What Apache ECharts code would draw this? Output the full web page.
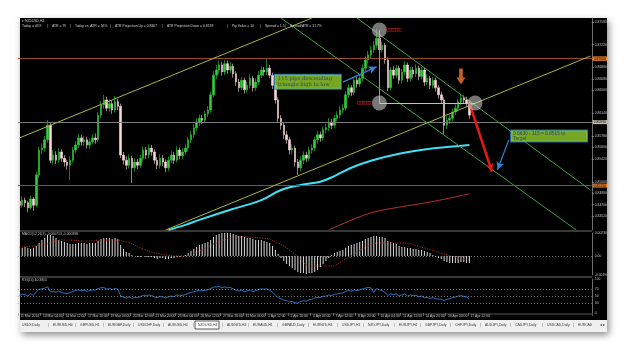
<!DOCTYPE html>
<html>
<head>
<meta charset="utf-8">
<script src="https://cdn.jsdelivr.net/npm/echarts@6/dist/echarts.min.js"></script>
<style>
html,body{margin:0;padding:0;background:#ffffff;overflow:hidden;}
#chart{width:625px;height:350px;}
</style>
</head>
<body>
<div id="chart"></div>
<script>
// ================= DATA =================
const timeLabels = ['11 Mar 2014','13 Mar 04:00','14 Mar 12:00','17 Mar 20:00','19 Mar 04:00','20 Mar 12:00','21 Mar 20:00','25 Mar 04:00','26 Mar 12:00','27 Mar 20:00','31 Mar 04:00','1 Apr 12:00','2 Apr 20:00','4 Apr 04:00','7 Apr 12:00','8 Apr 20:00','10 Apr 04:00','11 Apr 12:00','14 Apr 20:00','16 Apr 04:00','17 Apr 12:00'];

const open = [
0.8475,0.8469,0.8477,0.8473,0.8465,0.8479,0.8469,0.8517,0.8556,0.8559,
0.8572,0.8595,0.8540,0.8548,0.8540,0.8553,0.8543,0.8537,0.8532,0.8540,
0.8556,0.8564,0.8575,0.8569,0.8572,0.8564,0.8569,0.8575,0.8572,0.8611,
0.8627,0.8635,0.8622,0.8629,0.8619,0.8632,0.8625,0.8548,0.8540,0.8532,
0.8543,0.8528,0.8537,0.8532,0.8543,0.8556,0.8548,0.8559,0.8553,0.8540,
0.8532,0.8543,0.8537,0.8528,0.8540,0.8548,0.8540,0.8556,0.8547,0.8553,
0.8559,0.8572,0.8580,0.8591,0.8600,0.8606,0.8603,0.8613,0.8619,0.8643,
0.8674,0.8682,0.8690,0.8679,0.8692,0.8682,0.8688,0.8676,0.8663,0.8654,
0.8666,0.8651,0.8658,0.8669,0.8654,0.8663,0.8674,0.8682,0.8679,0.8685,
0.8674,0.8658,0.8635,0.8606,0.8595,0.8580,0.8572,0.8556,0.8559,0.8537,
0.8528,0.8540,0.8548,0.8543,0.8556,0.8559,0.8572,0.8580,0.8575,0.8588,
0.8591,0.8600,0.8595,0.8606,0.8611,0.8619,0.8622,0.8643,0.8654,0.8647,
0.8666,0.8660,0.8669,0.8685,0.8698,0.8706,0.8714,0.8721,0.8732,0.8714,
0.8721,0.8698,0.8654,0.8682,0.8674,0.8685,0.8666,0.8679,0.8690,0.8669,
0.8682,0.8676,0.8685,0.8672,0.8682,0.8663,0.8669,0.8658,0.8666,0.8654,
0.8643,0.8635,0.8595,0.8603,0.8606,0.8616,0.8622,0.8632,0.8638,0.8635,
0.8630];

const close = [
0.8469,0.8477,0.8473,0.8465,0.8479,0.8469,0.8517,0.8556,0.8559,0.8572,
0.8595,0.8540,0.8548,0.8540,0.8553,0.8543,0.8537,0.8532,0.8540,0.8556,
0.8564,0.8575,0.8569,0.8572,0.8564,0.8569,0.8575,0.8572,0.8611,0.8627,
0.8635,0.8622,0.8629,0.8619,0.8632,0.8625,0.8548,0.8540,0.8532,0.8543,
0.8528,0.8537,0.8532,0.8543,0.8556,0.8548,0.8559,0.8553,0.8540,0.8532,
0.8543,0.8537,0.8528,0.8540,0.8548,0.8540,0.8556,0.8547,0.8553,0.8559,
0.8572,0.8580,0.8591,0.8600,0.8606,0.8603,0.8613,0.8619,0.8643,0.8674,
0.8682,0.8690,0.8679,0.8692,0.8682,0.8688,0.8676,0.8663,0.8654,0.8666,
0.8651,0.8658,0.8669,0.8654,0.8663,0.8674,0.8682,0.8679,0.8685,0.8674,
0.8658,0.8635,0.8606,0.8595,0.8580,0.8572,0.8556,0.8559,0.8537,0.8528,
0.8540,0.8548,0.8543,0.8556,0.8559,0.8572,0.8580,0.8575,0.8588,0.8591,
0.8600,0.8595,0.8606,0.8611,0.8619,0.8622,0.8643,0.8654,0.8647,0.8666,
0.8660,0.8669,0.8685,0.8698,0.8706,0.8714,0.8721,0.8732,0.8714,0.8721,
0.8698,0.8654,0.8682,0.8674,0.8685,0.8666,0.8679,0.8690,0.8669,0.8682,
0.8676,0.8685,0.8672,0.8682,0.8663,0.8669,0.8658,0.8666,0.8654,0.8643,
0.8635,0.8595,0.8603,0.8606,0.8616,0.8622,0.8632,0.8638,0.8635,0.8630,
0.8611];

const high = [
0.8480,0.8483,0.8481,0.8476,0.8484,0.8482,0.8522,0.8561,0.8566,0.8578,
0.8603,0.8598,0.8556,0.8554,0.8559,0.8557,0.8548,0.8541,0.8546,0.8561,
0.8570,0.8581,0.8580,0.8578,0.8577,0.8574,0.8581,0.8582,0.8616,0.8633,
0.8643,0.8640,0.8636,0.8634,0.8641,0.8637,0.8629,0.8553,0.8546,0.8549,
0.8547,0.8543,0.8542,0.8549,0.8562,0.8561,0.8565,0.8564,0.8557,0.8545,
0.8549,0.8548,0.8541,0.8546,0.8554,0.8553,0.8562,0.8560,0.8559,0.8565,
0.8577,0.8586,0.8597,0.8606,0.8612,0.8611,0.8618,0.8625,0.8648,0.8680,
0.8690,0.8697,0.8695,0.8698,0.8697,0.8694,0.8692,0.8680,0.8668,0.8671,
0.8670,0.8664,0.8675,0.8673,0.8669,0.8680,0.8688,0.8687,0.8701,0.8690,
0.8678,0.8662,0.8639,0.8611,0.8600,0.8586,0.8577,0.8565,0.8563,0.8542,
0.8546,0.8554,0.8553,0.8561,0.8565,0.8577,0.8586,0.8585,0.8593,0.8597,
0.8606,0.8605,0.8611,0.8617,0.8625,0.8628,0.8649,0.8660,0.8658,0.8672,
0.8671,0.8675,0.8691,0.8704,0.8712,0.8720,0.8728,0.8747,0.8737,0.8727,
0.8725,0.8702,0.8687,0.8688,0.8690,0.8689,0.8684,0.8696,0.8694,0.8687,
0.8687,0.8691,0.8689,0.8687,0.8686,0.8675,0.8673,0.8671,0.8670,0.8658,
0.8648,0.8639,0.8609,0.8612,0.8621,0.8628,0.8637,0.8644,0.8642,0.8640,
0.8634];

const low = [
0.8463,0.8465,0.8466,0.8458,0.8462,0.8460,0.8466,0.8512,0.8549,0.8553,
0.8568,0.8535,0.8533,0.8534,0.8536,0.8537,0.8530,0.8525,0.8509,0.8536,
0.8551,0.8559,0.8563,0.8562,0.8558,0.8558,0.8565,0.8566,0.8569,0.8606,
0.8621,0.8617,0.8616,0.8613,0.8615,0.8619,0.8543,0.8533,0.8525,0.8527,
0.8504,0.8522,0.8526,0.8528,0.8538,0.8542,0.8543,0.8547,0.8534,0.8526,
0.8527,0.8531,0.8521,0.8523,0.8535,0.8534,0.8536,0.8541,0.8542,0.8548,
0.8554,0.8567,0.8575,0.8586,0.8594,0.8597,0.8598,0.8608,0.8615,0.8639,
0.8668,0.8676,0.8673,0.8674,0.8676,0.8677,0.8670,0.8657,0.8648,0.8650,
0.8645,0.8646,0.8653,0.8648,0.8649,0.8658,0.8669,0.8673,0.8674,0.8669,
0.8652,0.8629,0.8600,0.8588,0.8573,0.8566,0.8549,0.8549,0.8530,0.8517,
0.8522,0.8534,0.8537,0.8538,0.8550,0.8554,0.8566,0.8569,0.8570,0.8582,
0.8586,0.8589,0.8590,0.8601,0.8606,0.8614,0.8618,0.8638,0.8641,0.8643,
0.8654,0.8655,0.8664,0.8680,0.8692,0.8700,0.8709,0.8716,0.8708,0.8709,
0.8692,0.8649,0.8650,0.8668,0.8669,0.8660,0.8661,0.8674,0.8663,0.8664,
0.8670,0.8671,0.8666,0.8667,0.8657,0.8658,0.8652,0.8653,0.8648,0.8637,
0.8629,0.8580,0.8589,0.8597,0.8601,0.8611,0.8617,0.8627,0.8629,0.8624,
0.8605];

// moving averages: [candle index, price]
const maCyan = [[53,0.8430],[59,0.8438],[64,0.8446],[75,0.8462],[86,0.8477],[93,0.8493],[100,0.8501],[107,0.8506],[112,0.8515],[118,0.8528],[125,0.8539],[135,0.8550],[146,0.8558],[153,0.8561],[160,0.8564]];
const maRed = [[110,0.8430],[114,0.8438],[125,0.8457],[135,0.8466],[146,0.8474],[160,0.8487]];

// MACD histogram (one per candle) and signal line
const macdHist = [
0.0009,0.0008,0.0009,0.0008,0.0007,0.0008,
0.0010,0.0013,0.0016,0.0018,0.0021,0.0021,0.0020,
0.0018,0.0016,0.0015,0.0014,0.0013,0.0012,0.0012,0.0012,0.0013,0.0013,0.0013,0.0012,
0.0013,0.0013,0.0013,0.0015,
0.0017,0.0018,0.0018,0.0018,0.0017,0.0018,0.0017,
0.0011,0.0007,0.0004,0.0003,
0.0001,0.0000,-0.0001,-0.0001,0.0000,-0.0001,-0.0001,-0.0001,-0.0002,-0.0003,-0.0002,-0.0002,-0.0003,-0.0003,-0.0002,-0.0002,-0.0001,-0.0001,
0.0000,0.0001,0.0003,0.0005,0.0007,0.0009,0.0011,
0.0012,0.0013,0.0014,0.0016,0.0019,0.0021,
0.0022,0.0023,0.0023,0.0023,0.0023,0.0022,0.0021,0.0020,
0.0020,0.0019,0.0018,0.0018,0.0017,0.0016,0.0016,0.0016,0.0015,0.0014,0.0013,
0.0010,0.0006,0.0002,
-0.0002,-0.0005,-0.0008,-0.0010,-0.0012,-0.0014,-0.0016,-0.0017,-0.0017,-0.0018,-0.0017,-0.0017,-0.0016,-0.0014,
-0.0011,-0.0008,-0.0005,-0.0002,
0.0001,0.0003,0.0004,0.0005,0.0006,0.0008,0.0010,
0.0011,0.0012,0.0013,0.0014,0.0015,0.0017,
0.0018,0.0019,0.0020,0.0020,0.0019,0.0019,0.0018,
0.0015,0.0014,0.0013,0.0012,0.0010,
0.0009,0.0009,0.0008,0.0008,0.0007,0.0007,0.0006,0.0006,0.0005,0.0004,0.0003,
0.0001,-0.0001,-0.0002,-0.0003,-0.0005,
-0.0006,-0.0007,-0.0007,-0.0007,-0.0007,-0.0006,-0.0006,-0.0007,-0.0007];
const macdSignal = [[0,0.0009],[8,0.0011],[16,0.0016],[24,0.0015],[32,0.0016],[38,0.0014],[44,0.0007],[50,0.0002],[58,0.0000],[64,0.0005],[70,0.0013],[78,0.0019],[86,0.0018],[92,0.0013],[98,0.0002],[104,-0.0010],[110,-0.0010],[116,-0.0003],[122,0.0007],[128,0.0013],[136,0.0013],[144,0.0008],[150,0.0003],[156,-0.0002],[160,-0.0004]];

// RSI(14), one per candle
const rsi = [
52,55,54,50,56,52,
62,70,71,73,77,62,
64,61,64,60,58,57,60,64,66,68,66,67,64,
66,68,67,72,74,75,70,72,69,72,70,
50,47,44,48,43,
46,45,48,52,50,53,51,47,45,49,47,44,48,50,48,53,50,52,54,58,
60,63,65,66,65,67,68,72,
76,77,78,74,77,74,75,71,67,
64,68,63,65,68,63,66,69,71,70,71,
67,61,53,45,42,38,36,33,
34,30,29,34,36,35,39,40,44,46,
45,49,50,53,51,55,56,58,59,
64,66,64,68,66,68,71,73,
75,74,60,72,68,66,60,52,
56,54,56,50,53,56,50,53,51,
52,48,50,45,46,43,45,42,41,40,
36,40,42,45,47,50,51,49,47,40];

// price levels (horizontal lines) and annotations
const levels = [0.8745, 0.8700, 0.8630, 0.8515, 0.8439];
const greyLevel = 0.8599;
const priceTicks = [0.8758,0.8722,0.8686,0.8668,0.8650,0.8614,0.8578,0.8560,0.8542,0.8506,0.8488,0.8470,0.8452];
const ascUpper = [[0,0.8575],[104,0.8764]];
const ascLower = [[52,0.8430],[203,0.8704]];
const descUpper = [[120,0.8764],[203,0.8493]];
const descLower = [[93,0.8764],[198,0.8430]];
const redArrow = [[160,0.8630],[168,0.8522]];
const blueArrow1 = [[115,0.8663],[127,0.8687]];
const blueArrow2 = [[174,0.8572],[170,0.8525]];
const triVertical = [[128,0.8745],[128,0.8630]];
const triBase = [[128,0.8630],[162,0.8630]];
const circles = [[128,0.8745],[128,0.8630],[162,0.8630]];
const circleTexts = ['0.87450','0.86300',''];
const orangeArrowAt = [157,0.8672];
const note1At = [91,0.8674];
const note2At = [175,0.8586];
const note1Text = '115 pips descending\ntriangle high to low';
const note2Text = '0.8630 - 115 = 0.8515 tp\nTarget';

const tabs = ['USDX,Daily','EURUSD,H4','GBPUSD,H1','EURGBP,Daily','USDCHF,Daily','AUDUSD,H4','NZDUSD,H4','AUDNZD,H4','EURAUD,H1','GBPAUD,Daily','EURNZD,H4','USDJPY,H1','NZDJPY,Daily','EURJPY,H4','GBPJPY,Daily','CHFJPY,Daily','AUDJPY,Daily','CADJPY,Daily','USDCAD,Daily','EURCAD'];
const activeTab = 'NZDUSD,H4';
const headerItems = ['Today = 43.9','ATR = 79','Today vs. ATR = 56%','ATR Projection Up = 0.8807','ATR Projection Down = 0.8578','Pip Value = 10','Spread = 1.5','Spread/ATR = 31.7%'];

// ================= LAYOUT =================
const SLOTS = 204;
const cats = Array.from({length: SLOTS}, (_, i) => String(i));
const tabX = [22,53,80,108,138,168,198,227,253,282,313,342,368,399,425,455,485,515,547,578];
const headerX = [22,52,75,115,167,232,265,290];
const circleLabelPos = ['right','left','right'];
const FONT = 'Liberation Sans';
const FS = 3.4;

const candles = open.map((o, i) => [o, close[i], low[i], high[i]]);
const seg = (p, color, width, type, arrow) => [
  {coord: p[0], symbol: 'none', lineStyle: {color: color, width: width, type: type || 'solid'}},
  {coord: p[1], symbol: arrow ? 'arrow' : 'none', symbolSize: arrow ? [6, 8] : 0}
];
const levelLine = (v, lineColor, bg) => ({
  yAxis: v, symbol: 'none',
  lineStyle: {color: lineColor, width: 1, type: 'solid'},
  label: {show: true, position: 'end', formatter: () => v.toFixed(5), color: '#000', backgroundColor: bg, fontSize: FS, fontFamily: FONT, padding: [1, 1, 0, 1], distance: 1}
});

const gridBase = {left: 18, width: 573.75, containLabel: false, outerBoundsMode: 'none', show: false};
const xBase = {type: 'category', data: cats, boundaryGap: true, axisLine: {show: false}, axisTick: {show: false}, axisLabel: {show: false}, splitLine: {show: false}};
const labelEvery = (idx) => idx % 8 === 0 && idx / 8 < timeLabels.length;

const tabEls = [];
tabs.forEach((t, k) => {
  if (t === activeTab) {
    tabEls.push({type: 'rect', z: 50, shape: {x: tabX[k] - 3, y: 321, width: 24, height: 8}, style: {fill: '#ffffff', stroke: '#333', lineWidth: 0.8}});
  }
  tabEls.push({type: 'text', z: 51, style: {text: t, x: tabX[k], y: 323.3, fill: '#333', fontSize: FS, fontFamily: FONT}});
  if (k > 0) tabEls.push({type: 'text', z: 51, style: {text: '|', x: tabX[k] - 5, y: 322.8, fill: '#666', fontSize: 4, fontFamily: FONT}});
});
const headerEls = [];
headerItems.forEach((t, k) => {
  headerEls.push({type: 'text', z: 60, style: {text: t, x: headerX[k], y: 24.6, fill: '#d0d0d0', fontSize: FS, fontFamily: FONT}});
  if (k > 0) headerEls.push({type: 'text', z: 60, style: {text: '|', x: headerX[k] - 5, y: 24.3, fill: '#b0b0b0', fontSize: 4, fontFamily: FONT}});
});

const option = {
  animation: false,
  backgroundColor: '#ffffff',
  grid: [
    Object.assign({}, gridBase, {top: 18, height: 212}),
    Object.assign({}, gridBase, {top: 233, height: 42}),
    Object.assign({}, gridBase, {top: 279, height: 34})
  ],
  xAxis: [
    Object.assign({}, xBase, {gridIndex: 0}),
    Object.assign({}, xBase, {gridIndex: 1}),
    Object.assign({}, xBase, {gridIndex: 2,
      axisTick: {show: true, interval: labelEvery, length: 3, lineStyle: {color: '#888', width: 0.6}},
      axisLabel: {show: true, interval: labelEvery, formatter: (v, idx) => timeLabels[idx / 8] || '', fontSize: FS, fontFamily: FONT, color: '#c8c8c8', margin: 2, align: 'left', padding: [0, 0, 0, 1]}
    })
  ],
  yAxis: [
    {type: 'value', gridIndex: 0, position: 'right', min: 0.8430, max: 0.8764,
      axisLine: {show: true, lineStyle: {color: '#8a8a8a', width: 0.8}},
      axisTick: {show: true, length: 2, customValues: priceTicks, lineStyle: {color: '#8a8a8a'}},
      axisLabel: {show: true, customValues: priceTicks, formatter: v => v.toFixed(5), fontSize: FS, fontFamily: FONT, color: '#c0c0c0', margin: 3},
      splitLine: {show: false}},
    {type: 'value', gridIndex: 1, position: 'right', min: -0.0019, max: 0.0023,
      axisLine: {show: true, lineStyle: {color: '#8a8a8a', width: 0.8}},
      axisTick: {show: false},
      axisLabel: {show: true, customValues: [0.0023, 0, -0.0019], formatter: v => v === 0 ? '0.00' : v.toFixed(6), fontSize: FS, fontFamily: FONT, color: '#c0c0c0', margin: 3},
      splitLine: {show: false}},
    {type: 'value', gridIndex: 2, position: 'right', min: 0, max: 100,
      axisLine: {show: true, lineStyle: {color: '#8a8a8a', width: 0.8}},
      axisTick: {show: false},
      axisLabel: {show: true, customValues: [0, 30, 50, 70, 100], fontSize: FS, fontFamily: FONT, color: '#c0c0c0', margin: 3},
      splitLine: {show: false}}
  ],
  graphic: {elements: [
    {type: 'rect', z: -20, shape: {x: 20, y: 18, width: 587, height: 314}, style: {fill: '#000', shadowBlur: 7, shadowOffsetX: 2, shadowOffsetY: 3, shadowColor: 'rgba(0,0,0,0.45)'}},
    {type: 'rect', z: 40, shape: {x: 20, y: 320, width: 587, height: 12}, style: {fill: '#f0f0f0'}},
    {type: 'line', z: 40, shape: {x1: 20, y1: 231, x2: 592, y2: 231}, style: {stroke: '#8a8a8a', lineWidth: 0.8}},
    {type: 'line', z: 40, shape: {x1: 20, y1: 277, x2: 592, y2: 277}, style: {stroke: '#8a8a8a', lineWidth: 0.8}},
    {type: 'line', z: 40, shape: {x1: 20, y1: 314, x2: 592, y2: 314}, style: {stroke: '#8a8a8a', lineWidth: 0.6}},
    {type: 'text', z: 60, style: {text: '\u25BE NZDUSD,H4', x: 22, y: 19.3, fill: '#d0d0d0', fontSize: FS, fontFamily: FONT}},
    {type: 'text', z: 60, style: {text: 'MACD(12,26,9) -0.000713 -0.000398', x: 22, y: 232.6, fill: '#c0c0c0', fontSize: FS, fontFamily: FONT}},
    {type: 'text', z: 60, style: {text: 'RSI(14) 40.3805', x: 22, y: 278.6, fill: '#c0c0c0', fontSize: FS, fontFamily: FONT}},
    {type: 'text', z: 60, style: {text: '\u25C2 \u25B8', x: 600, y: 323, fill: '#333', fontSize: 4, fontFamily: FONT}}
  ].concat(headerEls, tabEls)},
  series: [
    {type: 'candlestick', xAxisIndex: 0, yAxisIndex: 0, data: candles, barWidth: 2,
      itemStyle: {color: '#2fcf3a', color0: '#f7d7d7', borderColor: '#2fcf3a', borderColor0: '#f7d7d7', borderWidth: 0.6},
      markLine: {silent: true, symbol: ['none', 'none'], animation: false, label: {show: false},
        data: levels.map(v => levelLine(v, '#9a4a22', '#e57a24'))
          .concat([levelLine(greyLevel, '#7a7a7a', '#bdbdbd')])
          .concat([
            seg(ascUpper, '#a7b840', 1),
            seg(ascLower, '#a7b840', 1),
            seg(descUpper, '#3f9f3f', 1),
            seg(descLower, '#3f9f3f', 1),
            seg(triVertical, '#5fbf5f', 1),
            seg(triBase, '#9fd89f', 1),
            seg(blueArrow1, '#2f86d8', 1.2, 'solid', true),
            seg(blueArrow2, '#2f86d8', 1.2, 'solid', true),
            seg(redArrow, '#e81818', 2.5, 'solid', true)
          ])
      }
    },
    {type: 'line', xAxisIndex: 0, yAxisIndex: 0, data: maCyan, smooth: 0.4, symbol: 'none', lineStyle: {color: '#3fe0f5', width: 2}, z: 3},
    {type: 'line', xAxisIndex: 0, yAxisIndex: 0, data: maRed, smooth: 0.4, symbol: 'none', lineStyle: {color: '#b8322e', width: 1}, z: 3},
    {type: 'scatter', xAxisIndex: 0, yAxisIndex: 0, symbolSize: 15, z: 5,
      data: circles.map((c, k) => ({value: c, label: {show: circleTexts[k] !== '', formatter: circleTexts[k], position: circleLabelPos[k]}})),
      itemStyle: {color: 'rgba(205,205,205,0.72)'},
      label: {distance: 0, fontSize: FS, fontFamily: FONT, color: '#ff3030', borderColor: '#d02020', borderWidth: 0.6, padding: [0, 1]}
    },
    {type: 'scatter', xAxisIndex: 0, yAxisIndex: 0, data: [orangeArrowAt], z: 6,
      symbol: 'path://M3,0 L7,0 L7,9 L10,9 L5,16 L0,9 L3,9 Z', symbolSize: [9, 16],
      itemStyle: {color: '#f5792a'}},
    {type: 'scatter', xAxisIndex: 0, yAxisIndex: 0, data: [note1At], symbolSize: 1, z: 7,
      itemStyle: {color: 'rgba(0,0,0,0)'},
      label: {show: true, position: [0, 0], align: 'left', verticalAlign: 'top', formatter: note1Text, fontSize: 5.2, lineHeight: 6, fontFamily: 'DejaVu Serif', color: '#1a2f7a', backgroundColor: '#93d12b', borderColor: '#2f86d8', borderWidth: 1, padding: [1, 3, 1, 3], width: 60}
    },
    {type: 'scatter', xAxisIndex: 0, yAxisIndex: 0, data: [note2At], symbolSize: 1, z: 7,
      itemStyle: {color: 'rgba(0,0,0,0)'},
      label: {show: true, position: [0, 0], align: 'left', verticalAlign: 'top', formatter: note2Text, fontSize: 4.8, lineHeight: 5, fontFamily: FONT, color: '#1a2f7a', backgroundColor: '#93d12b', borderColor: '#2f86d8', borderWidth: 1, padding: [1, 2, 0, 2], width: 72}
    },
    {type: 'bar', xAxisIndex: 1, yAxisIndex: 1, data: macdHist, barWidth: 1, itemStyle: {color: '#d8d8d8'},
      markLine: {silent: true, symbol: ['none', 'none'], label: {show: false}, lineStyle: {color: '#9a9a9a', type: [1, 2], width: 0.8}, data: [{yAxis: 0}]}
    },
    {type: 'line', xAxisIndex: 1, yAxisIndex: 1, data: macdSignal, smooth: 0.5, symbol: 'none', lineStyle: {color: '#c8302c', width: 1, type: [1, 1.5]}, z: 4},
    {type: 'line', xAxisIndex: 2, yAxisIndex: 2, data: rsi, symbol: 'none', lineStyle: {color: '#2f7fd8', width: 0.9},
      markLine: {silent: true, symbol: ['none', 'none'], label: {show: false}, lineStyle: {color: '#9a9a9a', type: [1, 2], width: 0.8}, data: [{yAxis: 70}, {yAxis: 50}, {yAxis: 30}]}
    }
  ]
};

const chart = echarts.init(document.getElementById('chart'), null, {renderer: 'canvas'});
chart.setOption(option);
</script>
</body>
</html>
